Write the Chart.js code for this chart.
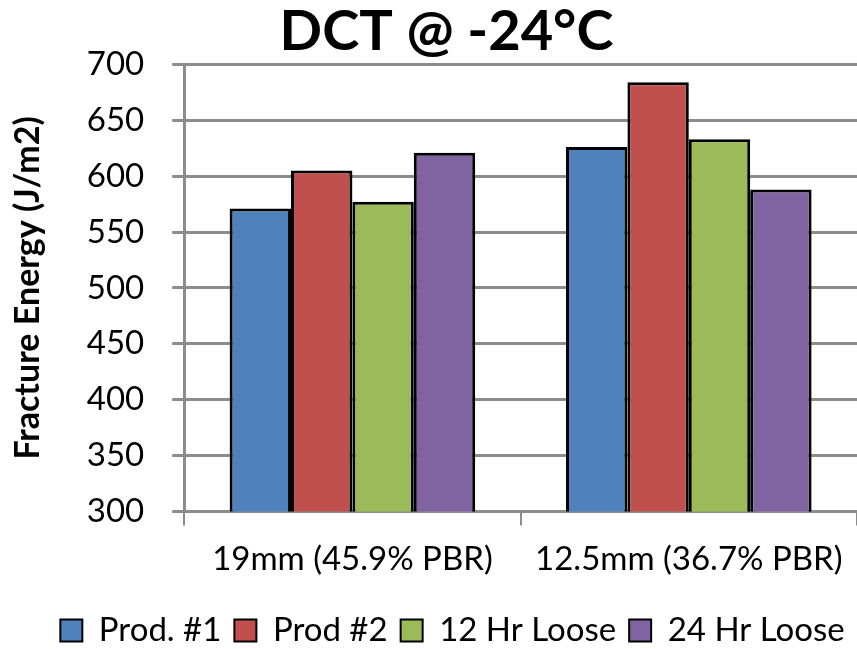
<!DOCTYPE html>
<html>
<head>
<meta charset="utf-8">
<script src="https://cdn.jsdelivr.net/npm/chart.js"></script>
<style>
  html, body { margin: 0; padding: 0; background: #fff; }
  #wrap { width: 857px; height: 649px; }
</style>
</head>
<body>
<div id="wrap"><canvas id="dct-chart" width="857" height="649"></canvas></div>
<script>
// Categories on the x axis
const categories = ['19mm (45.9% PBR)', '12.5mm (36.7% PBR)'];

// Series names and values
const seriesNames = ['Prod. #1', 'Prod #2', '12 Hr Loose', '24 Hr Loose'];
const prod1 = [571, 626];
const prod2 = [605, 684];
const loose12 = [577, 633];
const loose24 = [621, 588];

// y axis range
const yMin = 300;
const yMax = 700;
const yStep = 50;

const seriesColors = ['#4F81BD', '#C0504D', '#9BBB59', '#8064A2'];
const seriesValues = [prod1, prod2, loose12, loose24];

const fontFamily = 'Lato, "Open Sans", sans-serif';
const gridColor = '#8c8c8c';

const datasets = seriesNames.map((name, i) => ({
  label: name,
  data: seriesValues[i],
  backgroundColor: seriesColors[i],
  borderColor: '#000000',
  borderWidth: 3,
  borderSkipped: false,
  categoryPercentage: 0.73,
  barPercentage: 1.0,
}));

// nudge title and legend a bit, like the original layout
const nudgePlugin = {
  id: 'nudge',
  afterLayout(chart) {
    if (chart.titleBlock) {
      chart.titleBlock.left += 14;
      chart.titleBlock.right += 14;
    }
    if (chart.legend) {
      chart.legend.left += 20;
      chart.legend.right += 20;
      chart.legend.top += 8;
      chart.legend.bottom += 8;
    }
  },
};

const ctx = document.getElementById('dct-chart').getContext('2d');

new Chart(ctx, {
  type: 'bar',
  data: {
    labels: categories,
    datasets: datasets,
  },
  plugins: [nudgePlugin],
  options: {
    responsive: false,
    animation: false,
    layout: {
      padding: { left: 8, right: 0, top: 0, bottom: 0 },
    },
    plugins: {
      title: {
        display: true,
        text: 'DCT @ -24°C',
        color: '#000',
        font: { family: fontFamily, size: 56, weight: 'bold', lineHeight: 1.15 },
        padding: { top: 0, bottom: 0 },
      },
      legend: {
        position: 'bottom',
        labels: {
          color: '#000',
          boxWidth: 22,
          boxHeight: 22,
          padding: 13,
          font: { family: fontFamily, size: 33, lineHeight: 1.0 },
          generateLabels: (chart) =>
            chart.data.datasets.map((ds, i) => ({
              text: ds.label,
              fillStyle: ds.backgroundColor,
              strokeStyle: '#000',
              lineWidth: 2,
              datasetIndex: i,
            })),
        },
      },
      tooltip: { enabled: false },
    },
    scales: {
      x: {
        grid: {
          display: true,
          drawOnChartArea: false,
          color: gridColor,
          lineWidth: 2,
          tickLength: 14,
          offset: true,
        },
        border: { color: gridColor, width: 2 },
        ticks: {
          color: '#000',
          padding: 14,
          font: { family: fontFamily, size: 33 },
        },
      },
      y: {
        min: yMin,
        max: yMax,
        ticks: {
          stepSize: yStep,
          color: '#000',
          padding: 28,
          font: { family: fontFamily, size: 33 },
        },
        grid: {
          color: gridColor,
          lineWidth: 3,
          tickLength: 12,
        },
        border: { color: gridColor, width: 3 },
        title: {
          display: true,
          text: 'Fracture Energy (J/m2)',
          color: '#000',
          font: { family: fontFamily, size: 34, weight: 'bold' },
          padding: { top: 0, bottom: 10 },
        },
      },
    },
  },
});
</script>
</body>
</html>
